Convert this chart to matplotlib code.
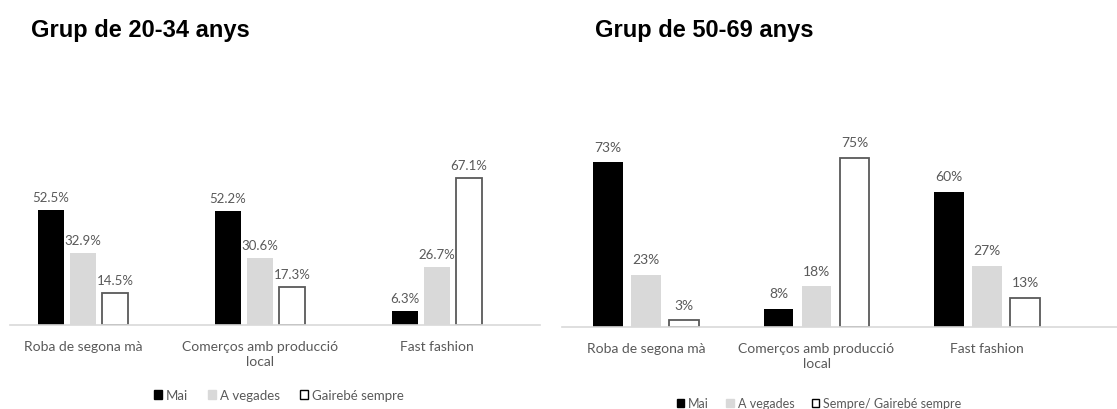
import numpy as np
import matplotlib.pyplot as plt
from matplotlib.patches import Patch

# data
categories = ["Roba de segona mà", "Comerços amb producció\nlocal", "Fast fashion"]
young_mai = [52.5, 52.2, 6.3]
young_vegades = [32.9, 30.6, 26.7]
young_sempre = [14.5, 17.3, 67.1]
old_mai = [73, 8, 60]
old_vegades = [23, 18, 27]
old_sempre = [3, 75, 13]

plt.rcParams['font.family'] = ['Lato', 'DejaVu Sans']
W, H = 1117, 410
fig = plt.figure(figsize=(W / 100, H / 100), dpi=100)

GREY_TXT = '#595959'
LIGHT = '#d9d9d9'


def px_axes(x0, x1, ytop, ybase):
    return fig.add_axes([x0 / W, (H - ybase) / H, (x1 - x0) / W, (ybase - ytop) / H])


def draw(ax, series, width, step, fmt, fs, off):
    x = np.arange(len(categories))
    styles = [dict(color='black'),
              dict(color=LIGHT),
              dict(facecolor='white', edgecolor='#595959', linewidth=1.3)]
    for i, (vals, st) in enumerate(zip(series, styles)):
        pos = x + (i - 1) * step
        ax.bar(pos, vals, width, **st)
        for p, v in zip(pos, vals):
            ax.annotate(fmt.format(v), (p, v), xytext=(0, off), textcoords='offset points',
                        ha='center', va='bottom', fontsize=fs, color=GREY_TXT)
    ax.set_xticks(x)
    ax.set_xticklabels(categories, fontsize=10, color=GREY_TXT, linespacing=1.3)
    ax.tick_params(axis='x', length=0, pad=11)
    ax.set_yticks([])
    for s in ['top', 'left', 'right']:
        ax.spines[s].set_visible(False)
    ax.spines['bottom'].set_color('#d9d9d9')
    ax.spines['bottom'].set_linewidth(1.2)
    handles = [Patch(facecolor='black', edgecolor='black'),
               Patch(facecolor=LIGHT, edgecolor=LIGHT),
               Patch(facecolor='white', edgecolor='black', linewidth=1)]
    return handles


# left panel
ax1 = px_axes(10, 540, 140, 326)
h1 = draw(ax1, [young_mai, young_vegades, young_sempre],
          26 / 177, 32 / 177, '{:.1f}%', 9.5, 5)
ax1.set_xlim(-73 / 177, -73 / 177 + 530 / 177)
ax1.set_ylim(0, 186 / 2.19)
fig.legend(h1, ['Mai', 'A vegades', 'Gairebé sempre'], loc='center',
           bbox_to_anchor=(279 / W, 1 - 396 / H), ncol=3, frameon=False,
           fontsize=9.5, handlelength=0.6, handleheight=0.6, handletextpad=0.3,
           columnspacing=1.5, labelcolor=GREY_TXT)

# right panel
ax2 = px_axes(562, 1117, 140, 328)
h2 = draw(ax2, [old_mai, old_vegades, old_sempre],
          29.5 / 170.5, 38 / 170.5, '{:.0f}%', 10, 7)
ax2.set_xlim(-84 / 170.5, -84 / 170.5 + 555 / 170.5)
ax2.set_ylim(0, 188 / 2.255)
fig.legend(h2, ['Mai', 'A vegades', 'Sempre/ Gairebé sempre'], loc='center',
           bbox_to_anchor=(819 / W, 1 - 404 / H), ncol=3, frameon=False,
           fontsize=9, handlelength=0.6, handleheight=0.6, handletextpad=0.3,
           columnspacing=1.4, labelcolor=GREY_TXT)

# titles
fig.text(31 / W, 1 - 37 / H, 'Grup de 20-34 anys', fontsize=17, fontweight='bold',
         family='Liberation Sans', va='baseline')
fig.text(595 / W, 1 - 37 / H, 'Grup de 50-69 anys', fontsize=17, fontweight='bold',
         family='Liberation Sans', va='baseline')

fig.savefig('out.png', dpi=100)
